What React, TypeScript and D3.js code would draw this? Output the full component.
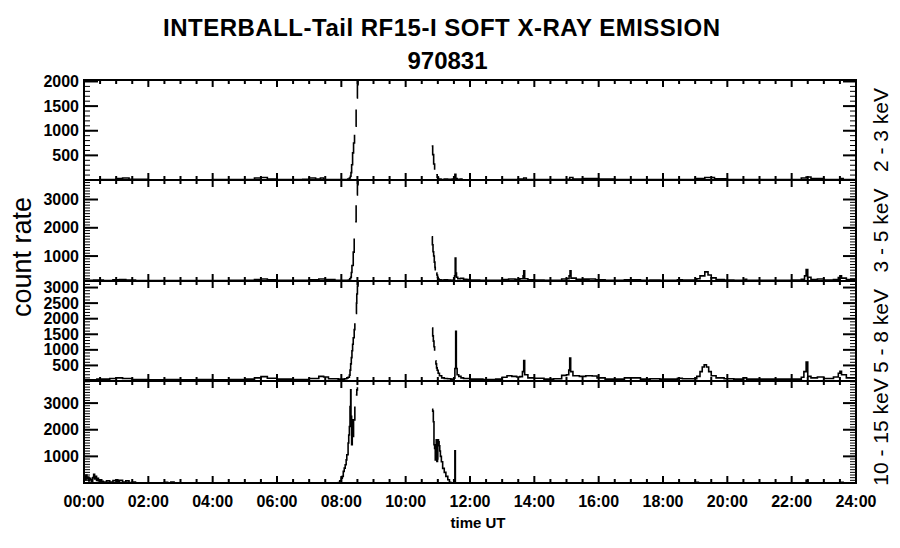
import React from "react";
import * as d3 from "d3";

type Pt = [number, number] | null;

const titleLine1 = "INTERBALL-Tail RF15-I SOFT X-RAY EMISSION";
const titleLine2 = "970831";
const yAxisTitle = "count rate";
const xAxisTitle = "time UT";

const timeMajor = [0, 2, 4, 6, 8, 10, 12, 14, 16, 18, 20, 22, 24];
const timeLabels = ["00:00", "02:00", "04:00", "06:00", "08:00", "10:00", "12:00", "14:00", "16:00", "18:00", "20:00", "22:00", "24:00"];
const timeMinorStep = 0.5;

const bandLabels = ["2 - 3 keV", "3 - 5 keV", "5 - 8 keV", "10 - 15 keV"];
const yMins = [0, 118, 0, 0];
const yMaxs = [2030, 3690, 3210, 3830];
const yMajorTicks = [
  [500, 1000, 1500, 2000],
  [1000, 2000, 3000],
  [500, 1000, 1500, 2000, 2500, 3000],
  [1000, 2000, 3000],
];
const yMinorStep = 100;

const ch23: Pt[] = [
  [0, 5], [0.5, 10], [1.0, 30], [1.2, 40], [1.4, 15], [2, 5], [3, 5], [4, 10], [5, 10], [5.3, 40], [5.5, 50], [5.7, 20],
  [6, 10], [6.8, 15], [7.0, 40], [7.2, 20], [7.35, 40], [7.45, 10], [8.0, 10], [8.2, 20], [8.25, 40], [8.28, 75],
  [8.30, 150], [8.32, 310], [8.35, 550], [8.38, 750], [8.41, 920], null, [8.44, 1090], [8.46, 1430], null,
  [8.48, 1665], [8.50, 1935], [8.52, 2200], [8.54, 2600], null,
  [10.81, 690], [10.84, 515], [10.87, 325], [10.90, 210], null, [10.95, 108], [10.98, 55], [11.02, 20], [11.1, 10],
  [11.2, 20], [11.3, 15], [11.45, 20], [11.5, 60], [11.53, 115], [11.56, 30], [11.6, 15], [11.7, 20], [11.75, 5],
  [12, 5], [13, 10], [13.5, 20], [13.67, 40], [13.75, 10], [14, 10], [15, 15], [15.1, 50], [15.2, 20], [15.5, 30],
  [16, 20], [16.5, 10], [17, 10], [18, 10], [18.5, 10], [19.0, 30], [19.3, 50], [19.6, 25], [20, 10], [21, 10],
  [22, 10], [22.3, 40], [22.45, 60], [22.6, 30], [23, 10], [23.5, 30], [23.6, 10], [24, 10],
];

const ch35: Pt[] = [
  [0, 140], [0.3, 150], [0.6, 135], [0.9, 160], [1.1, 170], [1.3, 150], [1.6, 135], [2, 130], [2.5, 135], [3, 130],
  [3.5, 135], [4, 130], [4.5, 140], [5, 140], [5.3, 170], [5.5, 190], [5.7, 160], [6, 140], [6.5, 140], [7.0, 160],
  [7.3, 190], [7.5, 170], [7.8, 140], [8.1, 140], [8.22, 150], [8.26, 200], [8.29, 250], [8.31, 420], [8.33, 665],
  [8.37, 1140], [8.40, 1620], null, [8.43, 2215], [8.46, 2800], null, [8.48, 3165], [8.50, 3520], [8.52, 3900], null,
  [10.81, 1680], [10.83, 1400], [10.85, 1150], [10.87, 1000], [10.89, 785], [10.91, 600], [10.92, 485], null,
  [10.95, 400], [10.97, 330], [10.99, 250], [11.01, 190], [11.04, 160], [11.1, 150], [11.2, 160], [11.3, 150],
  [11.4, 140], [11.48, 150], [11.52, 300], [11.54, 930], [11.56, 400], [11.58, 250], [11.62, 200], [11.7, 210],
  [11.8, 180], [11.9, 170], [12, 150], [12.3, 140], [12.6, 145], [13.0, 170], [13.2, 190], [13.4, 180], [13.55, 200],
  [13.65, 300], [13.67, 480], [13.7, 200], [13.8, 160], [14.0, 150], [14.3, 140], [14.6, 145], [14.85, 190],
  [15.0, 200], [15.08, 300], [15.11, 480], [15.14, 220], [15.3, 180], [15.5, 185], [15.7, 190], [15.9, 160],
  [16.2, 140], [16.5, 140], [16.8, 160], [17.1, 160], [17.3, 140], [17.6, 150], [17.9, 145], [18.2, 140],
  [18.45, 160], [18.6, 150], [18.9, 150], [19.05, 200], [19.15, 300], [19.3, 440], [19.4, 330], [19.5, 230],
  [19.65, 170], [19.9, 150], [20.2, 140], [20.55, 180], [20.6, 140], [21, 140], [21.5, 140], [22, 150], [22.3, 180],
  [22.4, 300], [22.45, 520], [22.5, 250], [22.6, 170], [22.8, 190], [23.0, 150], [23.3, 170], [23.45, 240],
  [23.5, 300], [23.55, 220], [23.7, 170], [24, 150],
];

const ch58: Pt[] = [
  [0, 40], [0.4, 60], [0.8, 80], [1.0, 100], [1.2, 80], [1.5, 50], [2, 40], [2.5, 45], [3, 40], [3.5, 50], [4, 40],
  [4.5, 50], [5.0, 60], [5.3, 100], [5.5, 140], [5.7, 90], [6, 60], [6.5, 50], [7.0, 80], [7.3, 150], [7.45, 130],
  [7.6, 70], [7.9, 60], [8.1, 70], [8.17, 100], [8.21, 120], [8.25, 190], [8.27, 350], [8.29, 550], [8.31, 750],
  [8.33, 970], [8.35, 1180], [8.37, 1390], [8.40, 1650], [8.42, 1855], null, [8.45, 2170], [8.47, 2500],
  [8.48, 2795], [8.50, 3050], [8.52, 3300], null,
  [10.82, 1700], [10.84, 1450], [10.86, 1280], [10.88, 1100], [10.90, 970], null, [10.93, 650], [10.94, 550],
  [10.96, 420], [10.98, 345], [11.01, 250], [11.05, 170], [11.12, 100], [11.2, 80], [11.3, 70], [11.4, 60],
  [11.5, 90], [11.53, 400], [11.555, 1595], [11.575, 400], [11.6, 200], [11.65, 150], [11.72, 100], [11.8, 80],
  [12, 60], [12.4, 50], [12.8, 60], [13.0, 120], [13.15, 170], [13.3, 150], [13.45, 130], [13.55, 140], [13.63, 300],
  [13.67, 655], [13.7, 200], [13.8, 100], [14, 90], [14.3, 60], [14.6, 70], [14.85, 180], [15.0, 200], [15.07, 350],
  [15.1, 740], [15.13, 300], [15.2, 170], [15.4, 150], [15.6, 170], [15.8, 160], [15.95, 100], [16.2, 60],
  [16.5, 60], [16.8, 100], [17.1, 100], [17.3, 60], [17.6, 70], [17.9, 60], [18.2, 60], [18.45, 90], [18.6, 70],
  [18.9, 70], [19.05, 150], [19.15, 300], [19.22, 450], [19.28, 520], [19.35, 450], [19.42, 300], [19.5, 170],
  [19.65, 100], [19.9, 70], [20.2, 60], [20.5, 100], [20.6, 60], [21, 60], [21.5, 60], [22, 60], [22.3, 120],
  [22.38, 300], [22.45, 605], [22.5, 150], [22.6, 100], [22.8, 130], [23.0, 80], [23.3, 130], [23.45, 250],
  [23.5, 310], [23.55, 200], [23.7, 100], [24, 80],
];

const ch1015: Pt[] = [
  [0, 250], [0.03, 120], [0.06, 300], [0.09, 150], [0.12, 220], [0.15, 80], [0.18, 180], [0.21, 120], [0.24, 60],
  [0.27, 200], [0.3, 330], [0.33, 150], [0.36, 250], [0.39, 100], [0.42, 180], [0.45, 80], [0.5, 120], [0.55, 60],
  [0.6, 40], [0.7, 80], [0.8, 40], [0.9, 90], [1.0, 120], [1.05, 60], [1.1, 100], [1.2, 40], [1.3, 80], [1.4, 20],
  [1.5, 40], [1.6, 0], [2.4, 0], [2.5, 30], [2.6, 10], [2.7, 40], [2.8, 0], [7.85, 0], [7.91, 20], [7.95, 80],
  [8.0, 180], [8.03, 250], [8.06, 435], [8.09, 560], [8.12, 685], [8.15, 870], [8.17, 1060], [8.21, 1500],
  [8.23, 1800], [8.25, 2120], [8.27, 2870], [8.29, 3495], [8.30, 2500], [8.32, 1435], [8.34, 2370], [8.36, 1745],
  [8.38, 2370], [8.42, 2870], null, [8.45, 3310], [8.48, 3495], [8.50, 3600], null,
  [10.82, 2770], [10.84, 2700], [10.86, 2300], [10.88, 1435], [10.90, 1300], [10.92, 870], [10.94, 1000],
  [10.95, 1620], [10.96, 1400], [10.97, 810], [10.99, 900], [11.0, 1620], [11.02, 1550], [11.04, 1400],
  [11.06, 1200], [11.08, 1000], [11.11, 800], [11.15, 550], [11.2, 400], [11.25, 250], [11.31, 120], [11.36, 30],
  [11.4, 0], [11.52, 0], [11.53, 1210], [11.545, 0], [18.9, 0], [19.0, 30], [19.1, 0], [22.4, 0], [22.45, 100],
  [22.5, 0], [23.5, 0], [23.55, 30], [23.6, 0], [24, 0],
];

const channels = [ch23, ch35, ch58, ch1015];

const FONT = "'Liberation Sans', Arial, Helvetica, sans-serif";

export default function App() {
  const left = 84;
  const right = 856;
  const bounds = [80, 180, 281, 381, 483];
  const x = d3.scaleLinear().domain([0, 24]).range([left, right]);
  const minorTimes = d3.range(0, 24 + 1e-9, timeMinorStep);

  const panels = channels.map((data, i) => {
    const top = bounds[i];
    const bottom = bounds[i + 1];
    const y = d3.scaleLinear().domain([yMins[i], yMaxs[i]]).range([bottom, top]);
    const line = d3
      .line<Pt>()
      .defined((d) => d !== null)
      .x((d) => x((d as [number, number])[0]))
      .y((d) => y((d as [number, number])[1]))
      .curve(d3.curveStepAfter);
    const minorY = d3
      .range(Math.ceil(yMins[i] / yMinorStep) * yMinorStep, yMaxs[i], yMinorStep)
      .filter((v) => v > yMins[i]);
    return { top, bottom, y, path: line(data) || "", minorY, i };
  });

  return (
    <svg
      width={900}
      height={548}
      style={{ position: "absolute", left: 0, top: 0, background: "#fff" }}
      fontFamily={FONT}
    >
      <rect x={0} y={0} width={900} height={548} fill="#fff" />
      <defs>
        {panels.map((p) => (
          <clipPath id={`clip${p.i}`} key={p.i}>
            <rect x={left} y={p.top} width={right - left} height={p.bottom - p.top} />
          </clipPath>
        ))}
      </defs>
      <text x={441.5} y={36} textAnchor="middle" fontSize={24} fontWeight="bold" fill="#000"
        textLength={557} lengthAdjust="spacing">
        {titleLine1}
      </text>
      <text x={447.5} y={69} textAnchor="middle" fontSize={24} fontWeight="bold" fill="#000">
        {titleLine2}
      </text>
      <text
        transform={`translate(31,257) rotate(-90)`}
        textAnchor="middle"
        fontSize={27}
        fill="#000"
      >
        {yAxisTitle}
      </text>
      <text x={478} y={528} textAnchor="middle" fontSize={15} fontWeight="bold" fill="#000">
        {xAxisTitle}
      </text>

      {panels.map((p) => (
        <g key={p.i}>
          <path d={p.path} fill="none" stroke="#000" strokeWidth={1.6} clipPath={`url(#clip${p.i})`} />
          <rect
            x={left}
            y={p.top}
            width={right - left}
            height={p.bottom - p.top}
            fill="none"
            stroke="#000"
            strokeWidth={2}
          />
          {minorTimes.map((t) => {
            const major = Math.abs(t / 2 - Math.round(t / 2)) < 1e-6;
            const len = major ? 7 : 4;
            return (
              <g key={t}>
                <line x1={x(t)} x2={x(t)} y1={p.bottom} y2={p.bottom - len} stroke="#000" strokeWidth={2} />
                <line x1={x(t)} x2={x(t)} y1={p.top} y2={p.top + len} stroke="#000" strokeWidth={2} />
              </g>
            );
          })}
          {p.minorY.map((v) => (
            <g key={`m${v}`}>
              <line x1={left} x2={left + 6} y1={p.y(v)} y2={p.y(v)} stroke="#000" strokeWidth={1} />
              <line x1={right} x2={right - 6} y1={p.y(v)} y2={p.y(v)} stroke="#000" strokeWidth={1} />
            </g>
          ))}
          {yMajorTicks[p.i].map((v) => (
            <g key={`M${v}`}>
              <line x1={left} x2={left + 14} y1={p.y(v)} y2={p.y(v)} stroke="#000" strokeWidth={2} />
              <line x1={right} x2={right - 13} y1={p.y(v)} y2={p.y(v)} stroke="#000" strokeWidth={2} />
              <text x={79} y={p.y(v) + 5.5} textAnchor="end" fontSize={16} fontWeight="bold" fill="#000">
                {v}
              </text>
            </g>
          ))}
          <text
            transform={`translate(888,${(p.top + p.bottom) / 2}) rotate(-90)`}
            textAnchor="middle"
            fontSize={21}
            fill="#000"
          >
            {bandLabels[p.i]}
          </text>
        </g>
      ))}

      {timeMajor.map((t, k) => (
        <text key={t} x={x(t)} y={507} textAnchor="middle" fontSize={16} fontWeight="bold" fill="#000">
          {timeLabels[k]}
        </text>
      ))}
    </svg>
  );
}
